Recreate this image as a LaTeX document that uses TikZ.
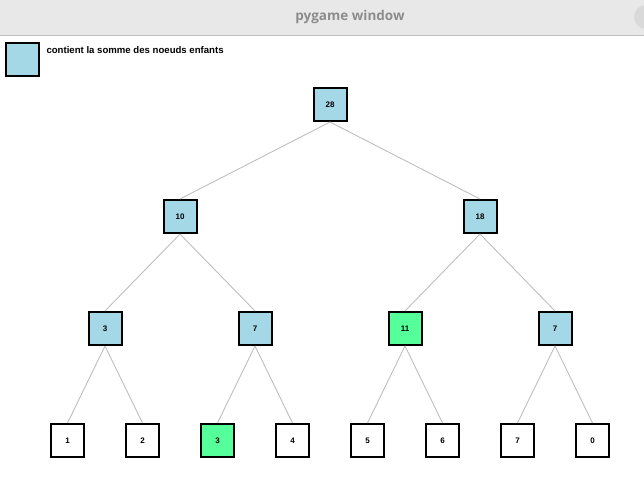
\documentclass[tikz,border=0pt]{standalone}
\usepackage{fontspec}
\setmainfont{Liberation Sans}
\newfontfamily\titlefont{Open Sans}
\usetikzlibrary{positioning}

\definecolor{sumblue}{RGB}{164,216,230}
\definecolor{hitgreen}{RGB}{85,255,153}
\definecolor{linkgray}{RGB}{190,190,190}
\definecolor{barbg}{RGB}{232,232,232}
\definecolor{bartext}{RGB}{140,140,140}

\begin{document}
\begin{tikzpicture}[x=1pt, y=-1pt,
    box/.style={draw=black, line width=2pt, minimum size=33pt, inner sep=0pt,
                font=\fontsize{8}{9}\selectfont\bfseries},
    sum/.style={box, fill=sumblue},
    hit/.style={box, fill=hitgreen},
    leaf/.style={box, fill=white},
    link/.style={draw=linkgray, line width=0.9pt},
    node distance=77pt]
    \useasboundingbox (0,0) rectangle (644,503);
    \clip (0,0) rectangle (644,503);

    % window bar
    \fill[barbg] (0,0) rectangle (644,35);
    \draw[black!25] (0,35.5) -- (644,35.5);
    \fill[black!15] (646,17) circle (12pt);
    \node[font=\titlefont\fontsize{13.5}{15}\selectfont\bfseries, text=bartext] (title) at (350,17) {pygame window};

    % legend
    \node[sum] (key) at (22.5,59.5) {};
    \node[anchor=west, font=\fontsize{9.6}{11}\selectfont\bfseries] (keytext)
        at ([xshift=3pt, yshift=-8pt]key.north east) {contient la somme des noeuds enfants};

    % tree
    \node[sum] (n28) at (330,104.5) {28};

    \node[sum, below=of n28, xshift=-150pt] (n10) {10};
    \node[sum, below=of n28, xshift=150pt] (n18) {18};

    \node[sum, below=of n10, xshift=-75pt] (n3) {3};
    \node[sum, below=of n10, xshift=75pt] (n7a) {7};
    \node[hit, below=of n18, xshift=-75pt] (n11) {11};
    \node[sum, below=of n18, xshift=75pt] (n7b) {7};

    \node[leaf, below=of n3, xshift=-37.5pt] (v1) {1};
    \node[leaf, below=of n3, xshift=37.5pt] (v2) {2};
    \node[hit, below=of n7a, xshift=-37.5pt] (v3) {3};
    \node[leaf, below=of n7a, xshift=37.5pt] (v4) {4};
    \node[leaf, below=of n11, xshift=-37.5pt] (v5) {5};
    \node[leaf, below=of n11, xshift=37.5pt] (v6) {6};
    \node[leaf, below=of n7b, xshift=-37.5pt] (v7) {7};
    \node[leaf, below=of n7b, xshift=37.5pt] (v0) {0};

    \foreach \p/\c in {n28/n10, n28/n18, n10/n3, n10/n7a, n18/n11, n18/n7b,
                       n3/v1, n3/v2, n7a/v3, n7a/v4, n11/v5, n11/v6, n7b/v7, n7b/v0}
        \draw[link] (\p.south) -- (\c.north);
\end{tikzpicture}
\end{document}
